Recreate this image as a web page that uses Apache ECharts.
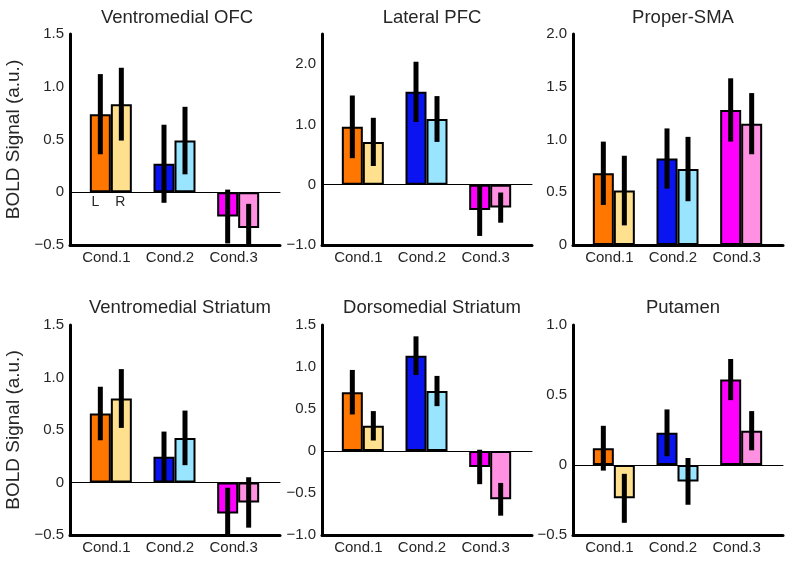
<!DOCTYPE html>
<html><head><meta charset="utf-8">
<script src="https://cdn.jsdelivr.net/npm/echarts@6/dist/echarts.min.js"></script>
<style>html,body{margin:0;padding:0;background:#fff}#c{width:787px;height:562px}</style>
</head><body><div id="c"></div><script>
// ---- data ----
const conditions = ['Cond.1', 'Cond.2', 'Cond.3'];
const titles = ['Ventromedial OFC', 'Lateral PFC', 'Proper-SMA', 'Ventromedial Striatum', 'Dorsomedial Striatum', 'Putamen'];
const sideLabels = ['L', 'R'];
const yAxisTitle = 'BOLD Signal (a.u.)';

const vmOFC_L = [0.74, 0.27, -0.23];
const vmOFC_R = [0.835, 0.49, -0.34];
const vmOFC_Lsem = [0.38, 0.37, 0.255];
const vmOFC_Rsem = [0.345, 0.32, 0.23];

const latPFC_L = [0.96, 1.54, -0.42];
const latPFC_R = [0.71, 1.09, -0.38];
const latPFC_Lsem = [0.52, 0.50, 0.43];
const latPFC_Rsem = [0.40, 0.38, 0.25];

const SMA_L = [0.68, 0.82, 1.28];
const SMA_R = [0.516, 0.72, 1.15];
const SMA_Lsem = [0.30, 0.285, 0.30];
const SMA_Rsem = [0.33, 0.305, 0.29];

const vmStr_L = [0.657, 0.245, -0.295];
const vmStr_R = [0.80, 0.425, -0.19];
const vmStr_Lsem = [0.255, 0.24, 0.245];
const vmStr_Rsem = [0.28, 0.26, 0.24];

const dmStr_L = [0.70, 1.135, -0.19];
const dmStr_R = [0.30, 0.714, -0.575];
const dmStr_Lsem = [0.265, 0.23, 0.205];
const dmStr_Rsem = [0.175, 0.18, 0.195];

const put_L = [0.12, 0.23, 0.61];
const put_R = [-0.238, -0.117, 0.245];
const put_Lsem = [0.16, 0.167, 0.147];
const put_Rsem = [0.175, 0.167, 0.14];

// y-axis ranges [min, max] per panel (tick step 0.5)
const yRanges = [[-0.5, 1.5], [-1, 2.5], [0, 2], [-0.5, 1.5], [-1, 1.5], [-0.5, 1]];
const yStep = 0.5;
const integerLabelsOnly = [false, true, false, false, false, false];

// ---- styles ----
const FONT = 'Liberation Sans, Arial, Helvetica, sans-serif';
const TXT = '#262626';
const leftColors = ['#FF7700', '#0A14F0', '#FF00FF'];
const rightColors = ['#FFE08F', '#99E5FF', '#FF90E2'];
const BAR_W = 21;
const axisX = [70, 322, 573];
const rowTop = [34, 325];
const rowH = [211, 210];
const plotW = 210;

const panels = [
  [vmOFC_L, vmOFC_R, vmOFC_Lsem, vmOFC_Rsem],
  [latPFC_L, latPFC_R, latPFC_Lsem, latPFC_Rsem],
  [SMA_L, SMA_R, SMA_Lsem, SMA_Rsem],
  [vmStr_L, vmStr_R, vmStr_Lsem, vmStr_Rsem],
  [dmStr_L, dmStr_R, dmStr_Lsem, dmStr_Rsem],
  [put_L, put_R, put_Lsem, put_Rsem]
];

const grid = [], xAxis = [], yAxis = [], series = [], title = [];

function fmt(v, intOnly) {
  if (intOnly && Math.abs(v - Math.round(v)) > 1e-9) return '';
  if (Math.abs(v) < 1e-9) return '0';
  const s = Math.abs(v).toFixed(1);
  return v < 0 ? '\u2212' + s : s;
}

panels.forEach((p, i) => {
  const col = i % 3, row = Math.floor(i / 3);
  const [yMin, yMax] = yRanges[i];
  const [L, R, Ls, Rs] = p;
  const fg = grid.length;
  grid.push({left: axisX[col], top: rowTop[row], width: plotW, height: rowH[row]});
  const bg = grid.length;
  grid.push({left: axisX[col] + 9, top: rowTop[row], width: plotW - 19, height: rowH[row]});

  title.push({
    text: titles[i], left: axisX[col] + plotW / 2 - (i === 0 ? 3 : 0), top: row === 0 ? 3 : 293, textAlign: 'center',
    textStyle: {fontFamily: FONT, fontSize: 18.5, fontWeight: 'normal', color: TXT}
  });

  // frame axes
  xAxis.push({gridIndex: fg, type: 'value', min: 0, max: 1, position: 'bottom',
    axisLine: {show: true, onZero: false, lineStyle: {color: '#000', width: 3}},
    axisTick: {show: false}, axisLabel: {show: false}, splitLine: {show: false}});
  xAxis.push({gridIndex: fg, type: 'value', min: 0, max: 1, position: 'bottom',
    axisLine: {show: yMin < 0, onZero: true, lineStyle: {color: '#000', width: 1}},
    axisTick: {show: false}, axisLabel: {show: false}, splitLine: {show: false}});
  yAxis.push({gridIndex: fg, type: 'value', min: yMin, max: yMax, interval: yStep,
    axisLine: {show: true, onZero: false, lineStyle: {color: '#000', width: 3}},
    axisTick: {show: false}, splitLine: {show: false},
    axisLabel: {fontFamily: FONT, fontSize: 15, color: TXT, margin: 6,
      formatter: v => fmt(v, integerLabelsOnly[i])},
    name: col === 0 ? yAxisTitle : '', nameLocation: 'middle', nameGap: 47,
    nameTextStyle: {fontFamily: FONT, fontSize: 19, color: TXT}});

  // bar axes
  const bx = xAxis.length;
  xAxis.push({gridIndex: bg, type: 'category', data: conditions,
    axisLine: {show: false, onZero: false}, axisTick: {show: false},
    axisLabel: {fontFamily: FONT, fontSize: 15, color: TXT, margin: 5, padding: [0, 9, 0, 0]}});
  const by = yAxis.length;
  yAxis.push({gridIndex: bg, type: 'value', min: yMin, max: yMax, show: false, splitLine: {show: false}});

  [L, R].forEach((vals, side) => {
    const colors = side === 0 ? leftColors : rightColors;
    series.push({
      type: 'bar', xAxisIndex: bx, yAxisIndex: by, barWidth: BAR_W, barGap: '0%',
      itemStyle: {borderColor: '#000', borderWidth: 2},
      data: vals.map((v, k) => {
        const d = {value: v, itemStyle: {color: colors[k]}};
        if (i === 0 && k === 0) {
          d.label = {show: true, position: 'bottom', distance: 3, formatter: sideLabels[side],
            offset: [side === 0 ? -5 : -1, 0], fontFamily: FONT, fontSize: 14, color: TXT};
        }
        return d;
      })
    });
  });

  const errData = [];
  [[L, Ls], [R, Rs]].forEach(([m, s], side) => {
    m.forEach((v, k) => errData.push([k, side, v - s[k], v + s[k]]));
  });
  series.push({
    type: 'custom', xAxisIndex: bx, yAxisIndex: by, z: 5,
    encode: {x: 0, y: [2, 3]},
    data: errData,
    renderItem: (params, api) => {
      const k = api.value(0), side = api.value(1);
      const lo = Math.max(api.value(2), yMin), hi = Math.min(api.value(3), yMax);
      const a = api.coord([k, lo]), b = api.coord([k, hi]);
      const dx = (side === 0 ? -1 : 1) * BAR_W / 2;
      return {type: 'line', shape: {x1: a[0] + dx, y1: a[1], x2: b[0] + dx, y2: b[1]},
        style: {stroke: '#000', lineWidth: 5}};
    }
  });
});

const chart = echarts.init(document.getElementById('c'), null, {renderer: 'canvas'});
chart.setOption({animation: false, backgroundColor: '#fff', title, grid, xAxis, yAxis, series});
</script></body></html>
